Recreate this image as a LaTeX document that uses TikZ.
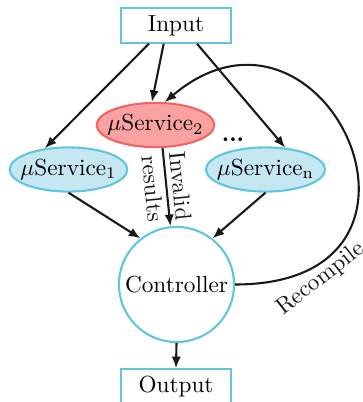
\documentclass[tikz,border=0pt]{standalone}
\usetikzlibrary{arrows.meta,shapes.geometric}
\definecolor{cborder}{RGB}{96,198,221}
\definecolor{cfill}{RGB}{197,231,242}
\definecolor{rborder}{RGB}{240,100,100}
\definecolor{rfill}{RGB}{250,162,162}
\begin{document}
\begin{tikzpicture}[x=0.43pt,y=-0.43pt,
  boxnode/.style={draw=cborder,line width=0.9pt,rectangle,minimum width=47.5pt,minimum height=14.8pt,inner sep=0pt},
  svc/.style={draw=cborder,fill=cfill,line width=0.9pt,ellipse,minimum width=50.5pt,minimum height=19pt,inner xsep=-2.8pt,inner ysep=0pt},
  svcred/.style={svc,draw=rborder,fill=rfill},
  ctrlnode/.style={draw=cborder,line width=0.9pt,circle,minimum size=49.5pt,inner sep=0pt},
  arr/.style={-{Latex[length=5pt,width=4pt]},line width=0.9pt,black!90}]
\useasboundingbox (0,0) rectangle (362,402);
\node[boxnode] (in) at (176,25.5) {Input};
\node[svcred] (s2) at (155.5,125) {$\mu$Service$_2$};
\node[svc] (s1) at (68.5,169.5) {$\mu$Service$_1$};
\node[svc] (sn) at (265.5,169.5) {$\mu$Service$_{\mathrm{n}}$};
\node[inner sep=0pt] (dots) at (233,139.5) {\textbf{...}};
\node[ctrlnode] (ctrl) at (176.5,284.5) {Controller};
\node[boxnode] (out) at (176,386.5) {Output};
\draw[arr] (in.-146) -- (s1.138);
\draw[arr] (in.-124) -- (s2.99);
\draw[arr] (in.-41) -- (sn.48);
\draw[arr] (s1.south) -- (ctrl.128);
\draw[arr] (sn.south) -- (ctrl.52);
\draw[arr] (s2.-73) -- node[midway,sloped,align=center,inner sep=1pt] {Invalid\\results} (ctrl.96);
\draw[arr] (ctrl.east) .. controls +(235,0) and +(160,-135) .. node[pos=0.14,rotate=38,anchor=north,inner sep=1pt] {Recompile} (s2.68);
\draw[arr] (ctrl.south) -- (out.north);
\end{tikzpicture}
\end{document}
